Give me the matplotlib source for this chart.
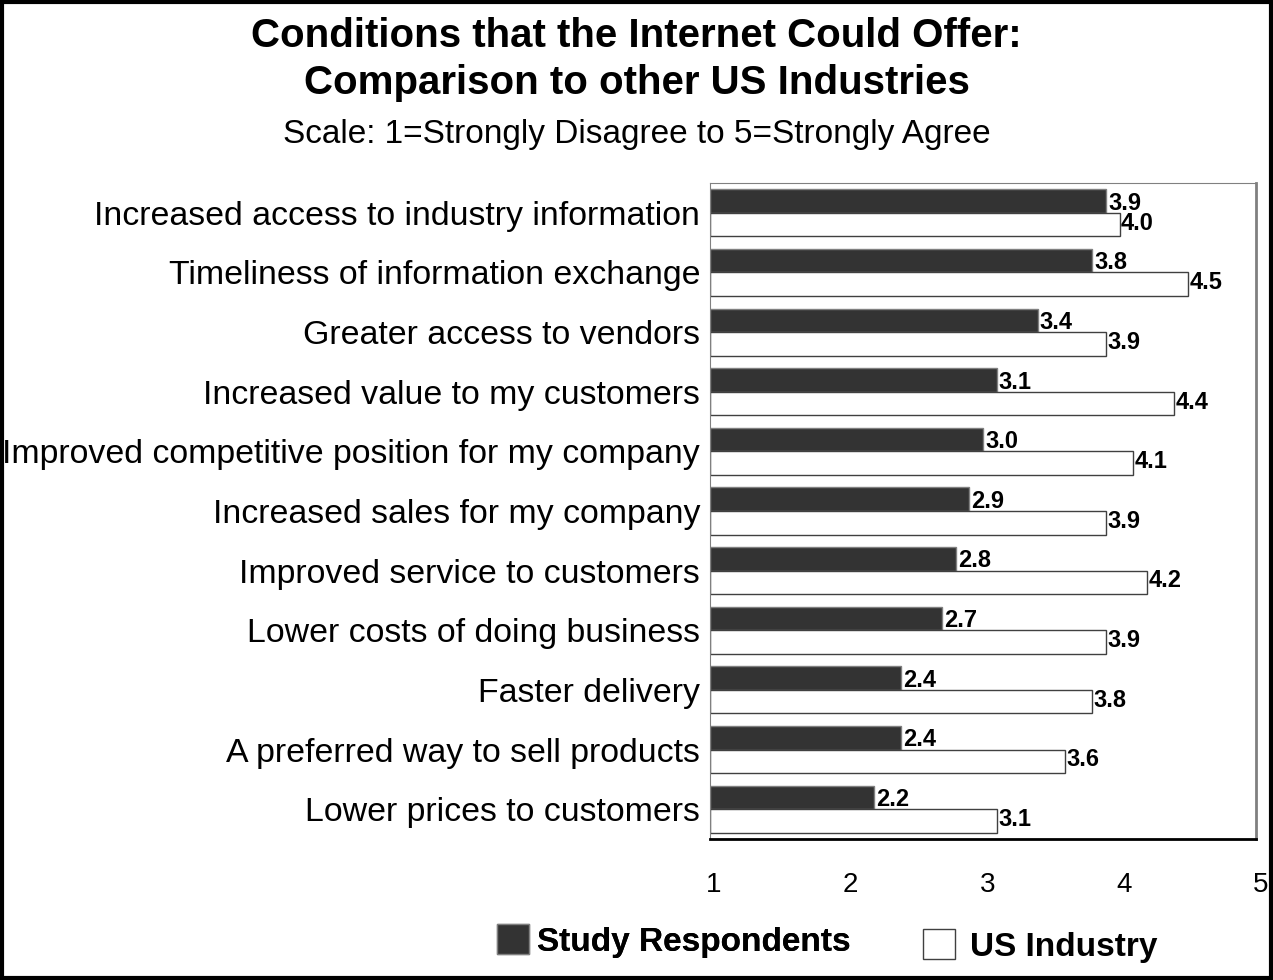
import matplotlib.pyplot as plt
import numpy as np
from matplotlib.patches import Rectangle
from matplotlib.transforms import ScaledTranslation

plt.rcParams["font.family"] = ["Liberation Sans", "DejaVu Sans"]

categories = [
    "Increased access to industry information",
    "Timeliness of information exchange",
    "Greater access to vendors",
    "Increased value to my customers",
    "Improved competitive position for my company",
    "Increased sales for my company",
    "Improved service to customers",
    "Lower costs of doing business",
    "Faster delivery",
    "A preferred way to sell products",
    "Lower prices to customers",
]
study = [3.9, 3.8, 3.4, 3.1, 3.0, 2.9, 2.8, 2.7, 2.4, 2.4, 2.2]
us_industry = [4.0, 4.5, 3.9, 4.4, 4.1, 3.9, 4.2, 3.9, 3.8, 3.6, 3.1]
xticks = [1, 2, 3, 4, 5]

fig = plt.figure(figsize=(12.73, 9.8), dpi=100)
ax = fig.add_axes([0.5577, 0.1439, 0.4290, 0.6694])

y = np.arange(len(categories))
h = 0.395
# bars start from 1 (bottom of the rating scale)
dark = ax.barh(y - h / 2, np.array(study) - 1, left=1, height=h,
               color="#333333", edgecolor="#808080", linewidth=1,
               label="Study Respondents")
light = ax.barh(y + h / 2, np.array(us_industry) - 1, left=1, height=h,
                color="white", edgecolor="#404040", linewidth=1,
                label="US Industry")

for yi, v in zip(y, study):
    ax.annotate(f"{v:.1f}", (v, yi - h / 2), xytext=(1.5, -1.5),
                textcoords="offset points", ha="left", va="center",
                fontsize=17, fontweight="bold")
for yi, v in zip(y, us_industry):
    ax.annotate(f"{v:.1f}", (v, yi + h / 2), xytext=(1, 1),
                textcoords="offset points", ha="left", va="center",
                fontsize=17, fontweight="bold")

ax.set_xlim(1, 5)
ax.set_ylim(len(categories) - 0.5, -0.5)
ax.set_yticks(y)
ax.set_yticklabels(categories, fontsize=24.4)
ax.set_xticks(xticks)
ax.set_xticklabels([str(t) for t in xticks], fontsize=20)
ax.tick_params(axis="both", length=0)
ax.tick_params(axis="x", pad=24)
ax.tick_params(axis="y", pad=7)
for lbl in ax.get_xticklabels():
    lbl.set_transform(lbl.get_transform() + ScaledTranslation(3 / 72, 0, fig.dpi_scale_trans))

ax.spines["left"].set_color("#808080")
ax.spines["top"].set_color("#808080")
ax.spines["right"].set_color("#808080")
ax.spines["right"].set_linewidth(2)
ax.spines["bottom"].set_color("black")
ax.spines["bottom"].set_linewidth(2)

fig.text(0.5, 0.963, "Conditions that the Internet Could Offer:", ha="center",
         va="center", fontsize=29, fontweight="bold")
fig.text(0.5, 0.915, "Comparison to other US Industries", ha="center",
         va="center", fontsize=29, fontweight="bold")
fig.text(0.5, 0.863, "Scale: 1=Strongly Disagree to 5=Strongly Agree",
         ha="center", va="center", fontsize=24)

# two separate legend entries, placed side by side under the axis
leg_kw = dict(frameon=False, prop={"size": 24, "weight": "bold"},
              handlelength=0.97, handleheight=0.97, borderpad=0, borderaxespad=0)
leg1 = fig.legend(handles=[dark], loc="center left",
                  bbox_to_anchor=(497 / 1273, 1 - 941 / 980),
                  handletextpad=0.22, **leg_kw)
fig.legend(handles=[light], loc="center left",
           bbox_to_anchor=(923 / 1273, 1 - 946 / 980),
           handletextpad=0.45, **leg_kw)
fig.add_artist(leg1)

fig.patches.append(Rectangle((0.0015, 0.002), 0.997, 0.9955, transform=fig.transFigure,
                             fill=False, edgecolor="black", linewidth=3))

fig.savefig("out.png", dpi=100)
